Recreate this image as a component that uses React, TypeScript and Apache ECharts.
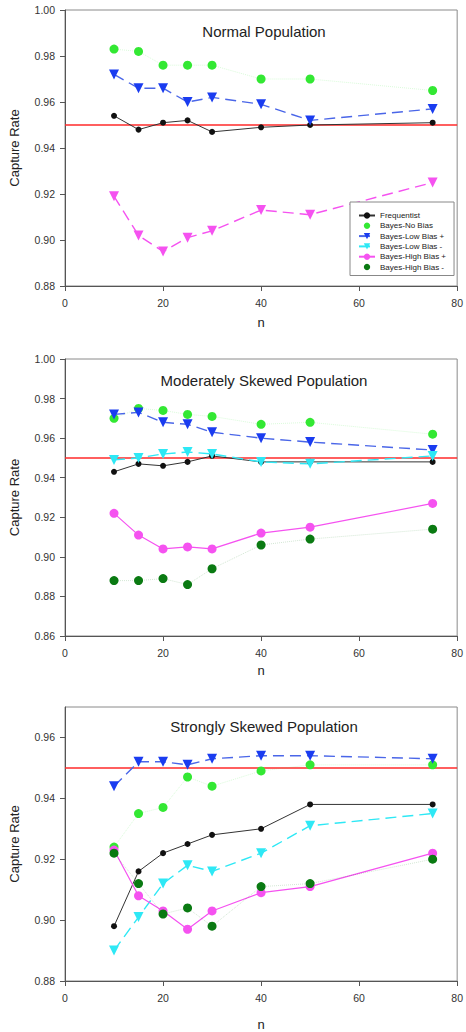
import React, { useEffect, useRef } from "react";
import * as echarts from "echarts";

// ---- data ----
const nValues = [10, 15, 20, 25, 30, 40, 50, 75];
const xTicks = [0, 20, 40, 60, 80];
const targetRate = 0.95;

const seriesNames = [
  "Frequentist",
  "Bayes-No Bias",
  "Bayes-Low Bias +",
  "Bayes-Low Bias -",
  "Bayes-High Bias +",
  "Bayes-High Bias -",
];
const panelTitles = ["Normal Population", "Moderately Skewed Population", "Strongly Skewed Population"];

// Normal population
const normalFreq = [0.954, 0.948, 0.951, 0.952, 0.947, 0.949, 0.95, 0.951];
const normalNoBias = [0.983, 0.982, 0.976, 0.976, 0.976, 0.97, 0.97, 0.965];
const normalLowPlus = [0.972, 0.966, 0.966, 0.96, 0.962, 0.959, 0.952, 0.957];
const normalHighPlus = [0.919, 0.902, 0.895, 0.901, 0.904, 0.913, 0.911, 0.925];

// Moderately skewed population
const modFreq = [0.943, 0.947, 0.946, 0.948, 0.951, 0.948, 0.948, 0.948];
const modNoBias = [0.97, 0.975, 0.974, 0.972, 0.971, 0.967, 0.968, 0.962];
const modLowPlus = [0.972, 0.973, 0.968, 0.967, 0.963, 0.96, 0.958, 0.954];
const modLowMinus = [0.949, 0.95, 0.952, 0.953, 0.952, 0.948, 0.947, 0.951];
const modHighPlus = [0.922, 0.911, 0.904, 0.905, 0.904, 0.912, 0.915, 0.927];
const modHighMinus = [0.888, 0.888, 0.889, 0.886, 0.894, 0.906, 0.909, 0.914];

// Strongly skewed population
const strFreq = [0.898, 0.916, 0.922, 0.925, 0.928, 0.93, 0.938, 0.938];
const strNoBias = [0.924, 0.935, 0.937, 0.947, 0.944, 0.949, 0.951, 0.951];
const strLowPlus = [0.944, 0.952, 0.952, 0.951, 0.953, 0.954, 0.954, 0.953];
const strLowMinus = [0.89, 0.901, 0.912, 0.918, 0.916, 0.922, 0.931, 0.935];
const strHighPlus = [0.923, 0.908, 0.903, 0.897, 0.903, 0.909, 0.911, 0.922];
const strHighMinus = [0.922, 0.912, 0.902, 0.904, 0.898, 0.911, 0.912, 0.92];

// y-axis ranges per panel
const yMins = [0.88, 0.86, 0.88];
const yMaxs = [1.0, 1.0, 0.97];

const FONT = "Liberation Sans, Arial, sans-serif";
const C_BLACK = "#111111";
const C_LIME = "#33e833";
const C_BLUE = "#1a3cf0";
const C_BLUE_LINE = "#4a66e8";
const C_CYAN = "#2ee8f5";
const C_MAGENTA = "#f552f0";
const C_DKGREEN = "#0a7a12";

const zip = (vals: number[]) => nValues.map((n, i) => [n, vals[i]]);

function freqSeries(name: string, data: number[], idx: number, withRef: boolean) {
  const s: any = {
    name,
    type: "line",
    xAxisIndex: idx,
    yAxisIndex: idx,
    data: zip(data),
    symbol: "circle",
    symbolSize: 6,
    itemStyle: { color: C_BLACK },
    lineStyle: { color: "#333", width: 1 },
    z: 3,
  };
  if (withRef) {
    s.markLine = {
      silent: true,
      symbol: ["none", "none"],
      label: { show: false },
      lineStyle: { color: "#ff2a2a", width: 1.6, type: "solid" },
      data: [{ yAxis: targetRate }],
      z: 1,
    };
  }
  return s;
}

function dotSeries(name: string, data: number[], idx: number, color: string) {
  return {
    name,
    type: "line",
    xAxisIndex: idx,
    yAxisIndex: idx,
    data: zip(data),
    symbol: "circle",
    symbolSize: 9,
    itemStyle: { color },
    lineStyle: { color, width: 1, type: "dotted", opacity: 0.18 },
    z: 3,
  };
}

function triSeries(name: string, data: number[], idx: number, color: string, lineColor: string) {
  return {
    name,
    type: "line",
    xAxisIndex: idx,
    yAxisIndex: idx,
    data: zip(data),
    symbol: "triangle",
    symbolRotate: 180,
    symbolSize: 10,
    itemStyle: { color },
    lineStyle: { color: lineColor, width: 1.4, type: [11, 6] },
    z: 3,
  };
}

function solidCircleSeries(name: string, data: number[], idx: number, color: string) {
  return {
    name,
    type: "line",
    xAxisIndex: idx,
    yAxisIndex: idx,
    data: zip(data),
    symbol: "circle",
    symbolSize: 9,
    itemStyle: { color },
    lineStyle: { color, width: 1.2, type: "solid" },
    z: 3,
  };
}

export default function App() {
  const ref = useRef<HTMLDivElement>(null);

  useEffect(() => {
    if (!ref.current) return;
    const chart = echarts.init(ref.current, undefined, { renderer: "svg" });

    const grids = [
      { left: 65, top: 10, width: 395, height: 276 },
      { left: 65, top: 359, width: 395, height: 277 },
      { left: 65, top: 707, width: 395, height: 275 },
    ];
    const xNameGaps = [30, 28, 37];
    const titleTops = [23.5, 373, 718.5];

    const series: any[] = [
      // panel 2 first so the legend takes its icon styles
      freqSeries(seriesNames[0], modFreq, 1, true),
      dotSeries(seriesNames[1], modNoBias, 1, C_LIME),
      triSeries(seriesNames[2], modLowPlus, 1, C_BLUE, C_BLUE_LINE),
      triSeries(seriesNames[3], modLowMinus, 1, C_CYAN, C_CYAN),
      solidCircleSeries(seriesNames[4], modHighPlus, 1, C_MAGENTA),
      dotSeries(seriesNames[5], modHighMinus, 1, C_DKGREEN),
      // panel 1
      freqSeries(seriesNames[0], normalFreq, 0, true),
      dotSeries(seriesNames[1], normalNoBias, 0, C_LIME),
      triSeries(seriesNames[2], normalLowPlus, 0, C_BLUE, C_BLUE_LINE),
      triSeries(seriesNames[4], normalHighPlus, 0, C_MAGENTA, C_MAGENTA),
      // panel 3
      freqSeries(seriesNames[0], strFreq, 2, true),
      dotSeries(seriesNames[1], strNoBias, 2, C_LIME),
      triSeries(seriesNames[2], strLowPlus, 2, C_BLUE, C_BLUE_LINE),
      triSeries(seriesNames[3], strLowMinus, 2, C_CYAN, C_CYAN),
      solidCircleSeries(seriesNames[4], strHighPlus, 2, C_MAGENTA),
      dotSeries(seriesNames[5], strHighMinus, 2, C_DKGREEN),
    ];

    const option: any = {
      animation: false,
      backgroundColor: "#ffffff",
      textStyle: { fontFamily: FONT },
      title: panelTitles.map((t, i) => ({
        text: t,
        left: 264,
        top: titleTops[i],
        textAlign: "center",
        padding: 0,
        textStyle: { fontFamily: FONT, fontSize: 15, fontWeight: "normal", color: "#222" },
      })),
      legend: {
        left: 350,
        top: 202,
        orient: "vertical",
        padding: [9.5, 8, 4.5, 8],
        backgroundColor: "#ffffff",
        borderColor: "#888",
        borderWidth: 1,
        borderRadius: 0,
        itemWidth: 16,
        itemHeight: 8,
        itemGap: 2.3,
        selectedMode: false,
        textStyle: { fontFamily: FONT, fontSize: 8, color: "#222" },
        data: seriesNames.map((name, i) =>
          i === 1 || i === 5 ? { name, lineStyle: { opacity: 0 } } : { name }
        ),
        z: 10,
      },
      grid: grids.map((g) => ({
        ...g,
        show: true,
        borderColor: "#8a8a8a",
        borderWidth: 1,
        backgroundColor: "transparent",
      })),
      xAxis: grids.map((_, i) => ({
        type: "value",
        gridIndex: i,
        min: xTicks[0],
        max: xTicks[xTicks.length - 1],
        interval: xTicks[1] - xTicks[0],
        name: "n",
        nameLocation: "middle",
        nameGap: xNameGaps[i],
        nameTextStyle: { fontFamily: FONT, fontSize: 13, color: "#222" },
        axisLine: { show: true, lineStyle: { color: "#555", width: 1 } },
        axisTick: { show: true, length: 5, lineStyle: { color: "#555" } },
        axisLabel: { fontFamily: FONT, fontSize: 10.5, color: "#333", margin: 11 },
        splitLine: { show: false },
      })),
      yAxis: grids.map((_, i) => ({
        type: "value",
        gridIndex: i,
        min: yMins[i],
        max: yMaxs[i],
        interval: 0.02,
        name: "Capture Rate",
        nameLocation: "middle",
        nameGap: 44,
        nameTextStyle: { fontFamily: FONT, fontSize: 13, color: "#222" },
        axisLine: { show: true, lineStyle: { color: "#555", width: 1 } },
        axisTick: { show: true, length: 5, lineStyle: { color: "#555" } },
        axisLabel: {
          fontFamily: FONT,
          fontSize: 10.5,
          color: "#333",
          margin: 10,
          showMaxLabel: i === 2 ? false : true,
          formatter: (v: number) => v.toFixed(2),
        },
        splitLine: { show: false },
      })),
      series,
    };

    chart.setOption(option);
    return () => chart.dispose();
  }, []);

  return (
    <div
      ref={ref}
      style={{ position: "absolute", left: 0, top: 0, width: 466, height: 1032 }}
    />
  );
}
